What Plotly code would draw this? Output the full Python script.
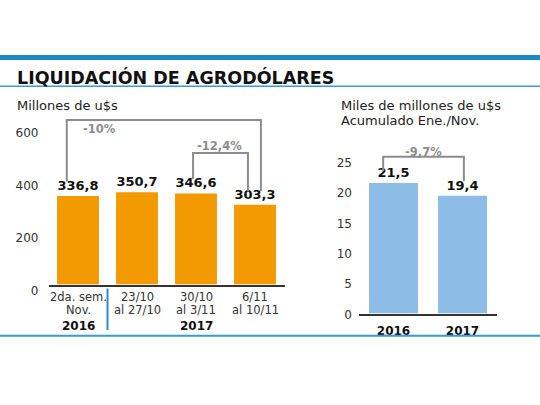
import plotly.graph_objects as go

# ---------------- data ----------------
weekly_cats = ["2da. sem. Nov.", "23/10 al 27/10", "30/10 al 3/11", "6/11 al 10/11"]
weekly_line1 = ["2da. sem.", "23/10", "30/10", "6/11"]
weekly_line2 = ["Nov.", "al 27/10", "al 3/11", "al 10/11"]
weekly_values = [336.8, 350.7, 346.6, 303.3]
weekly_labels = ["336,8", "350,7", "346,6", "303,3"]
weekly_years = ["2016", "2017"]
weekly_year_pos = [0, 2]

annual_cats = ["2016", "2017"]
annual_values = [21.5, 19.4]
annual_labels = ["21,5", "19,4"]

left_ticks = [0, 200, 400, 600]
right_ticks = [0, 5, 10, 15, 20, 25]

# bracket specs: (from_idx, to_idx, label)
left_brackets = [(0, 3, "-10%"), (2, 3, "-12,4%")]
right_brackets = [(0, 1, "-9,7%")]

W, H = 540, 405
ORANGE = "#F29A00"
LBLUE = "#8DBDE7"
BLUE = "#1E88C8"
GRAY = "#8C8C8C"
DARK = "#333333"
FONT = "DejaVu Sans"
BFONT = "DejaVu Sans"


def px(x):
    return x / W


def py(y):
    return 1 - y / H


fig = go.Figure()

fig.add_trace(go.Bar(
    x=weekly_cats, y=weekly_values, marker_color=ORANGE, marker_line_width=0,
    text=weekly_labels, textposition="outside", cliponaxis=False,
    constraintext="none",
    textfont=dict(family=BFONT, size=13, color="#111111", weight="bold"),
    xaxis="x", yaxis="y", hoverinfo="skip", showlegend=False,
))
fig.add_trace(go.Bar(
    x=annual_cats, y=annual_values, marker_color=LBLUE, marker_line_width=0,
    text=annual_labels, textposition="outside", cliponaxis=False,
    constraintext="none",
    textfont=dict(family=BFONT, size=13, color="#111111", weight="bold"),
    xaxis="x2", yaxis="y2", hoverinfo="skip", showlegend=False,
))

axis_common = dict(showgrid=False, zeroline=False, fixedrange=True)

fig.update_layout(
    width=W, height=H, autosize=False,
    margin=dict(l=0, r=0, t=0, b=0),
    paper_bgcolor="white", plot_bgcolor="white",
    bargap=0.29,
    xaxis=dict(domain=[px(48.5), px(284.5)], range=[-0.5, 3.5], showticklabels=False,
               showline=True, linecolor=DARK, linewidth=1.5, ticks="", anchor="y", **axis_common),
    yaxis=dict(domain=[py(294), py(120.1)], range=[0, 640], tickvals=left_ticks,
               ticks="", showline=False, anchor="x", ticklabelstandoff=9, ticklabelshift=6,
               tickfont=dict(family=FONT, size=12, color=DARK), **axis_common),
    xaxis2=dict(domain=[px(359), px(497)], range=[-0.5, 1.5], showline=True, linecolor=DARK,
                linewidth=1.5, ticks="", anchor="y2", ticklabelstandoff=5,
                tickfont=dict(family=BFONT, size=12, color="#111111", weight="bold"), **axis_common),
    yaxis2=dict(domain=[py(324), py(154.4)], range=[0, 27], tickvals=right_ticks,
                ticks="", showline=False, anchor="x2", ticklabelstandoff=6, ticklabelshift=1,
                tickfont=dict(family=FONT, size=12, color=DARK), **axis_common),
)

shapes = []
annotations = []

# decorative horizontal rules
shapes.append(dict(type="line", xref="paper", yref="paper", x0=0, x1=1, y0=py(59.5), y1=py(59.5),
                   line=dict(color=BLUE, width=5)))
shapes.append(dict(type="line", xref="paper", yref="paper", x0=0, x1=1, y0=py(89), y1=py(89),
                   line=dict(color="#3A9AD8", width=1.5)))
shapes.append(dict(type="line", xref="paper", yref="paper", x0=0, x1=1, y0=py(347), y1=py(347),
                   line=dict(color="#3A9AD8", width=2)))
# separator between 2016 and 2017 on the left chart
shapes.append(dict(type="line", xref="x", yref="paper", x0=0.5, x1=0.5, y0=py(298), y1=py(341),
                   line=dict(color="#2A8FD0", width=2)))

# title and units
annotations.append(dict(text="<b>LIQUIDACIÓN DE AGRODÓLARES</b>", x=px(15), y=py(80), xref="paper",
                        yref="paper", xanchor="left", yanchor="middle", showarrow=False,
                        font=dict(family=BFONT, size=17.5, color="#111111")))
annotations.append(dict(text="Millones de u$s", x=px(15), y=py(109), xref="paper", yref="paper",
                        xanchor="left", yanchor="middle", showarrow=False,
                        font=dict(family=FONT, size=13, color="#222222")))
annotations.append(dict(text="Miles de millones de u$s", x=px(339), y=py(109.5), xref="paper",
                        yref="paper", xanchor="left", yanchor="middle", showarrow=False,
                        font=dict(family=FONT, size=13, color="#222222")))
annotations.append(dict(text="Acumulado Ene./Nov.", x=px(339), y=py(124), xref="paper",
                        yref="paper", xanchor="left", yanchor="middle", showarrow=False,
                        font=dict(family=FONT, size=13, color="#222222")))

# left x labels (two lines) and years
for i, (l1, l2) in enumerate(zip(weekly_line1, weekly_line2)):
    annotations.append(dict(text=l1, x=i, y=py(306.5), xref="x", yref="paper", xanchor="center",
                            yanchor="middle", showarrow=False,
                            font=dict(family=FONT, size=11.5, color=DARK)))
    annotations.append(dict(text=l2, x=i, y=py(320), xref="x", yref="paper", xanchor="center",
                            yanchor="middle", showarrow=False,
                            font=dict(family=FONT, size=11.5, color=DARK)))
for yr, pos in zip(weekly_years, weekly_year_pos):
    annotations.append(dict(text="<b>" + yr + "</b>", x=pos, y=py(336.5), xref="x", yref="paper",
                            xanchor="center", yanchor="middle", showarrow=False,
                            font=dict(family=BFONT, size=12, color="#111111")))


def add_bracket(xr, yr, values, i0, i1, dx0, dx1, gap0, gap1, top, label, lx, ly):
    xa, xb = i0 + dx0, i1 + dx1
    ya, yb = values[i0] + gap0, values[i1] + gap1
    path = f"M {xa},{ya} L {xa},{top} L {xb},{top} L {xb},{yb}"
    shapes.append(dict(type="path", xref=xr, yref=yr, path=path,
                       line=dict(color=GRAY, width=2)))
    annotations.append(dict(text="<b>" + label + "</b>", x=lx, y=ly, xref=xr, yref=yr,
                            xanchor="center", yanchor="middle", showarrow=False,
                            font=dict(family=BFONT, size=11.5, color=GRAY)))


# left brackets
b = left_brackets[0]
add_bracket("x", "y", weekly_values, b[0], b[1], -0.19, 0.10, 55, 52, 626, b[2], 0.37, 592)
b = left_brackets[1]
add_bracket("x", "y", weekly_values, b[0], b[1], -0.05, -0.12, 55, 52, 500, b[2], 2.39, 526)
# right bracket
b = right_brackets[0]
add_bracket("x2", "y2", annual_values, b[0], b[1], -0.15, 0.02, 1.9, 2.4, 25.8, b[2], 0.43, 26.6)

fig.update_layout(shapes=shapes, annotations=annotations)

fig.write_html("out.html")
